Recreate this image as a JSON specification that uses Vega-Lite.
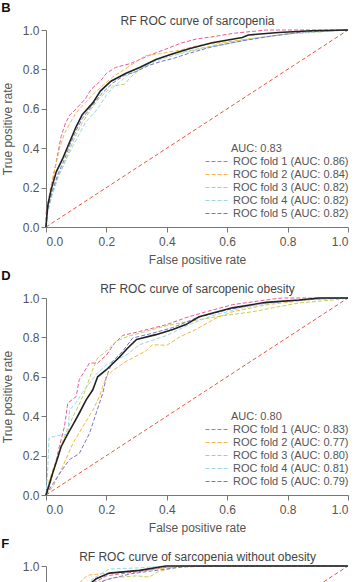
{
  "$schema": "https://vega.github.io/schema/vega-lite/v6.json",
  "background": "white",
  "padding": {"left": 1, "top": 1, "right": 5, "bottom": 0},
  "config": {
    "font": "Liberation Sans",
    "view": {"stroke": null},
    "title": {"anchor": "start", "frame": "bounds", "fontSize": 13, "fontWeight": "bold", "color": "#111111", "offset": 0, "dy": 4.5},
    "axis": {
      "grid": false,
      "labelFontSize": 12,
      "labelColor": "#555555",
      "titleFontSize": 12,
      "titleColor": "#555555",
      "titleFontWeight": "normal",
      "domainColor": "#777777",
      "tickColor": "#777777",
      "tickSize": 5,
      "labelPadding": 2
    },
    "axisX": {"labelPadding": 4, "titlePadding": 7},
    "axisTop": {"labels": false, "ticks": false, "domain": false, "titlePadding": 3, "titleColor": "#444444"},
    "axisY": {"titlePadding": 8},
    "legend": {
      "orient": "none",
      "legendX": 164,
      "legendY": 113,
      "symbolType": "M-2,0H2",
      "symbolSize": 121,
      "symbolStrokeWidth": 1.2,
      "symbolDash": [4, 2],
      "labelFontSize": 11,
      "labelColor": "#555555",
      "labelOffset": 10,
      "titleFontSize": 11,
      "titleFontWeight": "normal",
      "titleColor": "#555555",
      "titlePadding": 1,
      "rowPadding": 1
    }
  },
  "datasets": {
    "roc": [
      {"panel": "B", "series": "chance", "fpr": 0, "tpr": 0},
      {"panel": "B", "series": "chance", "fpr": 1, "tpr": 1},

      {"panel": "B", "series": "ROC fold 1 (AUC: 0.86)", "fpr": 0, "tpr": 0},
      {"panel": "B", "series": "ROC fold 1 (AUC: 0.86)", "fpr": 0.001, "tpr": 0.08},
      {"panel": "B", "series": "ROC fold 1 (AUC: 0.86)", "fpr": 0.01, "tpr": 0.15},
      {"panel": "B", "series": "ROC fold 1 (AUC: 0.86)", "fpr": 0.02, "tpr": 0.22},
      {"panel": "B", "series": "ROC fold 1 (AUC: 0.86)", "fpr": 0.03, "tpr": 0.3},
      {"panel": "B", "series": "ROC fold 1 (AUC: 0.86)", "fpr": 0.04, "tpr": 0.38},
      {"panel": "B", "series": "ROC fold 1 (AUC: 0.86)", "fpr": 0.05, "tpr": 0.46},
      {"panel": "B", "series": "ROC fold 1 (AUC: 0.86)", "fpr": 0.065, "tpr": 0.53},
      {"panel": "B", "series": "ROC fold 1 (AUC: 0.86)", "fpr": 0.08, "tpr": 0.57},
      {"panel": "B", "series": "ROC fold 1 (AUC: 0.86)", "fpr": 0.1, "tpr": 0.6},
      {"panel": "B", "series": "ROC fold 1 (AUC: 0.86)", "fpr": 0.13, "tpr": 0.65},
      {"panel": "B", "series": "ROC fold 1 (AUC: 0.86)", "fpr": 0.15, "tpr": 0.7},
      {"panel": "B", "series": "ROC fold 1 (AUC: 0.86)", "fpr": 0.18, "tpr": 0.74},
      {"panel": "B", "series": "ROC fold 1 (AUC: 0.86)", "fpr": 0.2, "tpr": 0.78},
      {"panel": "B", "series": "ROC fold 1 (AUC: 0.86)", "fpr": 0.23, "tpr": 0.81},
      {"panel": "B", "series": "ROC fold 1 (AUC: 0.86)", "fpr": 0.28, "tpr": 0.83},
      {"panel": "B", "series": "ROC fold 1 (AUC: 0.86)", "fpr": 0.31, "tpr": 0.85},
      {"panel": "B", "series": "ROC fold 1 (AUC: 0.86)", "fpr": 0.34, "tpr": 0.87},
      {"panel": "B", "series": "ROC fold 1 (AUC: 0.86)", "fpr": 0.4, "tpr": 0.905},
      {"panel": "B", "series": "ROC fold 1 (AUC: 0.86)", "fpr": 0.45, "tpr": 0.935},
      {"panel": "B", "series": "ROC fold 1 (AUC: 0.86)", "fpr": 0.5, "tpr": 0.955},
      {"panel": "B", "series": "ROC fold 1 (AUC: 0.86)", "fpr": 0.55, "tpr": 0.965},
      {"panel": "B", "series": "ROC fold 1 (AUC: 0.86)", "fpr": 0.62, "tpr": 0.983},
      {"panel": "B", "series": "ROC fold 1 (AUC: 0.86)", "fpr": 0.73, "tpr": 1},
      {"panel": "B", "series": "ROC fold 1 (AUC: 0.86)", "fpr": 1, "tpr": 1},

      {"panel": "B", "series": "ROC fold 2 (AUC: 0.84)", "fpr": 0, "tpr": 0},
      {"panel": "B", "series": "ROC fold 2 (AUC: 0.84)", "fpr": 0.005, "tpr": 0.1},
      {"panel": "B", "series": "ROC fold 2 (AUC: 0.84)", "fpr": 0.015, "tpr": 0.2},
      {"panel": "B", "series": "ROC fold 2 (AUC: 0.84)", "fpr": 0.03, "tpr": 0.3},
      {"panel": "B", "series": "ROC fold 2 (AUC: 0.84)", "fpr": 0.045, "tpr": 0.4},
      {"panel": "B", "series": "ROC fold 2 (AUC: 0.84)", "fpr": 0.06, "tpr": 0.47},
      {"panel": "B", "series": "ROC fold 2 (AUC: 0.84)", "fpr": 0.08, "tpr": 0.53},
      {"panel": "B", "series": "ROC fold 2 (AUC: 0.84)", "fpr": 0.1, "tpr": 0.58},
      {"panel": "B", "series": "ROC fold 2 (AUC: 0.84)", "fpr": 0.13, "tpr": 0.63},
      {"panel": "B", "series": "ROC fold 2 (AUC: 0.84)", "fpr": 0.16, "tpr": 0.68},
      {"panel": "B", "series": "ROC fold 2 (AUC: 0.84)", "fpr": 0.19, "tpr": 0.72},
      {"panel": "B", "series": "ROC fold 2 (AUC: 0.84)", "fpr": 0.22, "tpr": 0.76},
      {"panel": "B", "series": "ROC fold 2 (AUC: 0.84)", "fpr": 0.26, "tpr": 0.8},
      {"panel": "B", "series": "ROC fold 2 (AUC: 0.84)", "fpr": 0.3, "tpr": 0.84},
      {"panel": "B", "series": "ROC fold 2 (AUC: 0.84)", "fpr": 0.33, "tpr": 0.87},
      {"panel": "B", "series": "ROC fold 2 (AUC: 0.84)", "fpr": 0.38, "tpr": 0.88},
      {"panel": "B", "series": "ROC fold 2 (AUC: 0.84)", "fpr": 0.45, "tpr": 0.9},
      {"panel": "B", "series": "ROC fold 2 (AUC: 0.84)", "fpr": 0.5, "tpr": 0.92},
      {"panel": "B", "series": "ROC fold 2 (AUC: 0.84)", "fpr": 0.6, "tpr": 0.94},
      {"panel": "B", "series": "ROC fold 2 (AUC: 0.84)", "fpr": 0.7, "tpr": 0.96},
      {"panel": "B", "series": "ROC fold 2 (AUC: 0.84)", "fpr": 0.8, "tpr": 0.98},
      {"panel": "B", "series": "ROC fold 2 (AUC: 0.84)", "fpr": 0.9, "tpr": 0.99},
      {"panel": "B", "series": "ROC fold 2 (AUC: 0.84)", "fpr": 1, "tpr": 1},

      {"panel": "B", "series": "ROC fold 3 (AUC: 0.82)", "fpr": 0, "tpr": 0},
      {"panel": "B", "series": "ROC fold 3 (AUC: 0.82)", "fpr": 0.005, "tpr": 0.08},
      {"panel": "B", "series": "ROC fold 3 (AUC: 0.82)", "fpr": 0.02, "tpr": 0.17},
      {"panel": "B", "series": "ROC fold 3 (AUC: 0.82)", "fpr": 0.04, "tpr": 0.26},
      {"panel": "B", "series": "ROC fold 3 (AUC: 0.82)", "fpr": 0.06, "tpr": 0.32},
      {"panel": "B", "series": "ROC fold 3 (AUC: 0.82)", "fpr": 0.08, "tpr": 0.4},
      {"panel": "B", "series": "ROC fold 3 (AUC: 0.82)", "fpr": 0.1, "tpr": 0.47},
      {"panel": "B", "series": "ROC fold 3 (AUC: 0.82)", "fpr": 0.12, "tpr": 0.53},
      {"panel": "B", "series": "ROC fold 3 (AUC: 0.82)", "fpr": 0.15, "tpr": 0.6},
      {"panel": "B", "series": "ROC fold 3 (AUC: 0.82)", "fpr": 0.18, "tpr": 0.66},
      {"panel": "B", "series": "ROC fold 3 (AUC: 0.82)", "fpr": 0.21, "tpr": 0.7},
      {"panel": "B", "series": "ROC fold 3 (AUC: 0.82)", "fpr": 0.22, "tpr": 0.715},
      {"panel": "B", "series": "ROC fold 3 (AUC: 0.82)", "fpr": 0.26, "tpr": 0.725},
      {"panel": "B", "series": "ROC fold 3 (AUC: 0.82)", "fpr": 0.28, "tpr": 0.76},
      {"panel": "B", "series": "ROC fold 3 (AUC: 0.82)", "fpr": 0.31, "tpr": 0.8},
      {"panel": "B", "series": "ROC fold 3 (AUC: 0.82)", "fpr": 0.35, "tpr": 0.84},
      {"panel": "B", "series": "ROC fold 3 (AUC: 0.82)", "fpr": 0.4, "tpr": 0.87},
      {"panel": "B", "series": "ROC fold 3 (AUC: 0.82)", "fpr": 0.46, "tpr": 0.89},
      {"panel": "B", "series": "ROC fold 3 (AUC: 0.82)", "fpr": 0.55, "tpr": 0.92},
      {"panel": "B", "series": "ROC fold 3 (AUC: 0.82)", "fpr": 0.65, "tpr": 0.95},
      {"panel": "B", "series": "ROC fold 3 (AUC: 0.82)", "fpr": 0.75, "tpr": 0.97},
      {"panel": "B", "series": "ROC fold 3 (AUC: 0.82)", "fpr": 0.85, "tpr": 0.99},
      {"panel": "B", "series": "ROC fold 3 (AUC: 0.82)", "fpr": 1, "tpr": 1},

      {"panel": "B", "series": "ROC fold 4 (AUC: 0.82)", "fpr": 0, "tpr": 0},
      {"panel": "B", "series": "ROC fold 4 (AUC: 0.82)", "fpr": 0.005, "tpr": 0.07},
      {"panel": "B", "series": "ROC fold 4 (AUC: 0.82)", "fpr": 0.02, "tpr": 0.16},
      {"panel": "B", "series": "ROC fold 4 (AUC: 0.82)", "fpr": 0.04, "tpr": 0.25},
      {"panel": "B", "series": "ROC fold 4 (AUC: 0.82)", "fpr": 0.06, "tpr": 0.32},
      {"panel": "B", "series": "ROC fold 4 (AUC: 0.82)", "fpr": 0.085, "tpr": 0.4},
      {"panel": "B", "series": "ROC fold 4 (AUC: 0.82)", "fpr": 0.11, "tpr": 0.47},
      {"panel": "B", "series": "ROC fold 4 (AUC: 0.82)", "fpr": 0.13, "tpr": 0.53},
      {"panel": "B", "series": "ROC fold 4 (AUC: 0.82)", "fpr": 0.16, "tpr": 0.58},
      {"panel": "B", "series": "ROC fold 4 (AUC: 0.82)", "fpr": 0.18, "tpr": 0.62},
      {"panel": "B", "series": "ROC fold 4 (AUC: 0.82)", "fpr": 0.2, "tpr": 0.67},
      {"panel": "B", "series": "ROC fold 4 (AUC: 0.82)", "fpr": 0.23, "tpr": 0.72},
      {"panel": "B", "series": "ROC fold 4 (AUC: 0.82)", "fpr": 0.27, "tpr": 0.77},
      {"panel": "B", "series": "ROC fold 4 (AUC: 0.82)", "fpr": 0.31, "tpr": 0.8},
      {"panel": "B", "series": "ROC fold 4 (AUC: 0.82)", "fpr": 0.36, "tpr": 0.84},
      {"panel": "B", "series": "ROC fold 4 (AUC: 0.82)", "fpr": 0.42, "tpr": 0.87},
      {"panel": "B", "series": "ROC fold 4 (AUC: 0.82)", "fpr": 0.5, "tpr": 0.9},
      {"panel": "B", "series": "ROC fold 4 (AUC: 0.82)", "fpr": 0.6, "tpr": 0.93},
      {"panel": "B", "series": "ROC fold 4 (AUC: 0.82)", "fpr": 0.7, "tpr": 0.96},
      {"panel": "B", "series": "ROC fold 4 (AUC: 0.82)", "fpr": 0.8, "tpr": 0.98},
      {"panel": "B", "series": "ROC fold 4 (AUC: 0.82)", "fpr": 0.9, "tpr": 0.99},
      {"panel": "B", "series": "ROC fold 4 (AUC: 0.82)", "fpr": 1, "tpr": 1},

      {"panel": "B", "series": "ROC fold 5 (AUC: 0.82)", "fpr": 0, "tpr": 0},
      {"panel": "B", "series": "ROC fold 5 (AUC: 0.82)", "fpr": 0.005, "tpr": 0.09},
      {"panel": "B", "series": "ROC fold 5 (AUC: 0.82)", "fpr": 0.02, "tpr": 0.18},
      {"panel": "B", "series": "ROC fold 5 (AUC: 0.82)", "fpr": 0.04, "tpr": 0.27},
      {"panel": "B", "series": "ROC fold 5 (AUC: 0.82)", "fpr": 0.06, "tpr": 0.34},
      {"panel": "B", "series": "ROC fold 5 (AUC: 0.82)", "fpr": 0.08, "tpr": 0.42},
      {"panel": "B", "series": "ROC fold 5 (AUC: 0.82)", "fpr": 0.1, "tpr": 0.49},
      {"panel": "B", "series": "ROC fold 5 (AUC: 0.82)", "fpr": 0.12, "tpr": 0.55},
      {"panel": "B", "series": "ROC fold 5 (AUC: 0.82)", "fpr": 0.15, "tpr": 0.61},
      {"panel": "B", "series": "ROC fold 5 (AUC: 0.82)", "fpr": 0.18, "tpr": 0.67},
      {"panel": "B", "series": "ROC fold 5 (AUC: 0.82)", "fpr": 0.22, "tpr": 0.73},
      {"panel": "B", "series": "ROC fold 5 (AUC: 0.82)", "fpr": 0.26, "tpr": 0.77},
      {"panel": "B", "series": "ROC fold 5 (AUC: 0.82)", "fpr": 0.3, "tpr": 0.79},
      {"panel": "B", "series": "ROC fold 5 (AUC: 0.82)", "fpr": 0.34, "tpr": 0.82},
      {"panel": "B", "series": "ROC fold 5 (AUC: 0.82)", "fpr": 0.38, "tpr": 0.84},
      {"panel": "B", "series": "ROC fold 5 (AUC: 0.82)", "fpr": 0.42, "tpr": 0.855},
      {"panel": "B", "series": "ROC fold 5 (AUC: 0.82)", "fpr": 0.47, "tpr": 0.88},
      {"panel": "B", "series": "ROC fold 5 (AUC: 0.82)", "fpr": 0.55, "tpr": 0.915},
      {"panel": "B", "series": "ROC fold 5 (AUC: 0.82)", "fpr": 0.65, "tpr": 0.945},
      {"panel": "B", "series": "ROC fold 5 (AUC: 0.82)", "fpr": 0.75, "tpr": 0.97},
      {"panel": "B", "series": "ROC fold 5 (AUC: 0.82)", "fpr": 0.85, "tpr": 0.99},
      {"panel": "B", "series": "ROC fold 5 (AUC: 0.82)", "fpr": 1, "tpr": 1},

      {"panel": "B", "series": "mean", "fpr": 0, "tpr": 0},
      {"panel": "B", "series": "mean", "fpr": 0.003, "tpr": 0.06},
      {"panel": "B", "series": "mean", "fpr": 0.006, "tpr": 0.11},
      {"panel": "B", "series": "mean", "fpr": 0.017, "tpr": 0.19},
      {"panel": "B", "series": "mean", "fpr": 0.034, "tpr": 0.28},
      {"panel": "B", "series": "mean", "fpr": 0.056, "tpr": 0.35},
      {"panel": "B", "series": "mean", "fpr": 0.078, "tpr": 0.43},
      {"panel": "B", "series": "mean", "fpr": 0.1, "tpr": 0.51},
      {"panel": "B", "series": "mean", "fpr": 0.12, "tpr": 0.57},
      {"panel": "B", "series": "mean", "fpr": 0.155, "tpr": 0.63},
      {"panel": "B", "series": "mean", "fpr": 0.18, "tpr": 0.69},
      {"panel": "B", "series": "mean", "fpr": 0.215, "tpr": 0.74},
      {"panel": "B", "series": "mean", "fpr": 0.265, "tpr": 0.78},
      {"panel": "B", "series": "mean", "fpr": 0.31, "tpr": 0.81},
      {"panel": "B", "series": "mean", "fpr": 0.364, "tpr": 0.85},
      {"panel": "B", "series": "mean", "fpr": 0.42, "tpr": 0.88},
      {"panel": "B", "series": "mean", "fpr": 0.474, "tpr": 0.905},
      {"panel": "B", "series": "mean", "fpr": 0.55, "tpr": 0.935},
      {"panel": "B", "series": "mean", "fpr": 0.65, "tpr": 0.962},
      {"panel": "B", "series": "mean", "fpr": 0.67, "tpr": 0.975},
      {"panel": "B", "series": "mean", "fpr": 0.77, "tpr": 0.987},
      {"panel": "B", "series": "mean", "fpr": 0.88, "tpr": 0.996},
      {"panel": "B", "series": "mean", "fpr": 1, "tpr": 1},

      {"panel": "D", "series": "chance", "fpr": 0, "tpr": 0},
      {"panel": "D", "series": "chance", "fpr": 1, "tpr": 1},

      {"panel": "D", "series": "ROC fold 1 (AUC: 0.83)", "fpr": 0, "tpr": 0},
      {"panel": "D", "series": "ROC fold 1 (AUC: 0.83)", "fpr": 0.01, "tpr": 0.04},
      {"panel": "D", "series": "ROC fold 1 (AUC: 0.83)", "fpr": 0.03, "tpr": 0.15},
      {"panel": "D", "series": "ROC fold 1 (AUC: 0.83)", "fpr": 0.044, "tpr": 0.245},
      {"panel": "D", "series": "ROC fold 1 (AUC: 0.83)", "fpr": 0.061, "tpr": 0.347},
      {"panel": "D", "series": "ROC fold 1 (AUC: 0.83)", "fpr": 0.072, "tpr": 0.466},
      {"panel": "D", "series": "ROC fold 1 (AUC: 0.83)", "fpr": 0.1, "tpr": 0.5},
      {"panel": "D", "series": "ROC fold 1 (AUC: 0.83)", "fpr": 0.11, "tpr": 0.585},
      {"panel": "D", "series": "ROC fold 1 (AUC: 0.83)", "fpr": 0.116, "tpr": 0.6},
      {"panel": "D", "series": "ROC fold 1 (AUC: 0.83)", "fpr": 0.144, "tpr": 0.67},
      {"panel": "D", "series": "ROC fold 1 (AUC: 0.83)", "fpr": 0.171, "tpr": 0.67},
      {"panel": "D", "series": "ROC fold 1 (AUC: 0.83)", "fpr": 0.2, "tpr": 0.71},
      {"panel": "D", "series": "ROC fold 1 (AUC: 0.83)", "fpr": 0.227, "tpr": 0.77},
      {"panel": "D", "series": "ROC fold 1 (AUC: 0.83)", "fpr": 0.254, "tpr": 0.81},
      {"panel": "D", "series": "ROC fold 1 (AUC: 0.83)", "fpr": 0.31, "tpr": 0.83},
      {"panel": "D", "series": "ROC fold 1 (AUC: 0.83)", "fpr": 0.4, "tpr": 0.865},
      {"panel": "D", "series": "ROC fold 1 (AUC: 0.83)", "fpr": 0.463, "tpr": 0.9},
      {"panel": "D", "series": "ROC fold 1 (AUC: 0.83)", "fpr": 0.53, "tpr": 0.93},
      {"panel": "D", "series": "ROC fold 1 (AUC: 0.83)", "fpr": 0.617, "tpr": 0.966},
      {"panel": "D", "series": "ROC fold 1 (AUC: 0.83)", "fpr": 0.728, "tpr": 0.99},
      {"panel": "D", "series": "ROC fold 1 (AUC: 0.83)", "fpr": 0.78, "tpr": 1},
      {"panel": "D", "series": "ROC fold 1 (AUC: 0.83)", "fpr": 1, "tpr": 1},

      {"panel": "D", "series": "ROC fold 2 (AUC: 0.77)", "fpr": 0, "tpr": 0},
      {"panel": "D", "series": "ROC fold 2 (AUC: 0.77)", "fpr": 0.022, "tpr": 0.04},
      {"panel": "D", "series": "ROC fold 2 (AUC: 0.77)", "fpr": 0.055, "tpr": 0.143},
      {"panel": "D", "series": "ROC fold 2 (AUC: 0.77)", "fpr": 0.089, "tpr": 0.262},
      {"panel": "D", "series": "ROC fold 2 (AUC: 0.77)", "fpr": 0.122, "tpr": 0.347},
      {"panel": "D", "series": "ROC fold 2 (AUC: 0.77)", "fpr": 0.155, "tpr": 0.43},
      {"panel": "D", "series": "ROC fold 2 (AUC: 0.77)", "fpr": 0.177, "tpr": 0.5},
      {"panel": "D", "series": "ROC fold 2 (AUC: 0.77)", "fpr": 0.19, "tpr": 0.56},
      {"panel": "D", "series": "ROC fold 2 (AUC: 0.77)", "fpr": 0.2, "tpr": 0.6},
      {"panel": "D", "series": "ROC fold 2 (AUC: 0.77)", "fpr": 0.22, "tpr": 0.63},
      {"panel": "D", "series": "ROC fold 2 (AUC: 0.77)", "fpr": 0.265, "tpr": 0.678},
      {"panel": "D", "series": "ROC fold 2 (AUC: 0.77)", "fpr": 0.33, "tpr": 0.73},
      {"panel": "D", "series": "ROC fold 2 (AUC: 0.77)", "fpr": 0.353, "tpr": 0.763},
      {"panel": "D", "series": "ROC fold 2 (AUC: 0.77)", "fpr": 0.4, "tpr": 0.76},
      {"panel": "D", "series": "ROC fold 2 (AUC: 0.77)", "fpr": 0.44, "tpr": 0.8},
      {"panel": "D", "series": "ROC fold 2 (AUC: 0.77)", "fpr": 0.496, "tpr": 0.84},
      {"panel": "D", "series": "ROC fold 2 (AUC: 0.77)", "fpr": 0.563, "tpr": 0.898},
      {"panel": "D", "series": "ROC fold 2 (AUC: 0.77)", "fpr": 0.617, "tpr": 0.93},
      {"panel": "D", "series": "ROC fold 2 (AUC: 0.77)", "fpr": 0.728, "tpr": 0.965},
      {"panel": "D", "series": "ROC fold 2 (AUC: 0.77)", "fpr": 0.838, "tpr": 0.985},
      {"panel": "D", "series": "ROC fold 2 (AUC: 0.77)", "fpr": 0.92, "tpr": 1},
      {"panel": "D", "series": "ROC fold 2 (AUC: 0.77)", "fpr": 1, "tpr": 1},

      {"panel": "D", "series": "ROC fold 3 (AUC: 0.80)", "fpr": 0, "tpr": 0},
      {"panel": "D", "series": "ROC fold 3 (AUC: 0.80)", "fpr": 0.01, "tpr": 0.07},
      {"panel": "D", "series": "ROC fold 3 (AUC: 0.80)", "fpr": 0.03, "tpr": 0.16},
      {"panel": "D", "series": "ROC fold 3 (AUC: 0.80)", "fpr": 0.05, "tpr": 0.25},
      {"panel": "D", "series": "ROC fold 3 (AUC: 0.80)", "fpr": 0.07, "tpr": 0.33},
      {"panel": "D", "series": "ROC fold 3 (AUC: 0.80)", "fpr": 0.09, "tpr": 0.4},
      {"panel": "D", "series": "ROC fold 3 (AUC: 0.80)", "fpr": 0.11, "tpr": 0.46},
      {"panel": "D", "series": "ROC fold 3 (AUC: 0.80)", "fpr": 0.13, "tpr": 0.53},
      {"panel": "D", "series": "ROC fold 3 (AUC: 0.80)", "fpr": 0.15, "tpr": 0.62},
      {"panel": "D", "series": "ROC fold 3 (AUC: 0.80)", "fpr": 0.171, "tpr": 0.695},
      {"panel": "D", "series": "ROC fold 3 (AUC: 0.80)", "fpr": 0.2, "tpr": 0.73},
      {"panel": "D", "series": "ROC fold 3 (AUC: 0.80)", "fpr": 0.232, "tpr": 0.78},
      {"panel": "D", "series": "ROC fold 3 (AUC: 0.80)", "fpr": 0.27, "tpr": 0.805},
      {"panel": "D", "series": "ROC fold 3 (AUC: 0.80)", "fpr": 0.33, "tpr": 0.83},
      {"panel": "D", "series": "ROC fold 3 (AUC: 0.80)", "fpr": 0.4, "tpr": 0.86},
      {"panel": "D", "series": "ROC fold 3 (AUC: 0.80)", "fpr": 0.47, "tpr": 0.88},
      {"panel": "D", "series": "ROC fold 3 (AUC: 0.80)", "fpr": 0.573, "tpr": 0.907},
      {"panel": "D", "series": "ROC fold 3 (AUC: 0.80)", "fpr": 0.683, "tpr": 0.93},
      {"panel": "D", "series": "ROC fold 3 (AUC: 0.80)", "fpr": 0.75, "tpr": 0.95},
      {"panel": "D", "series": "ROC fold 3 (AUC: 0.80)", "fpr": 0.838, "tpr": 0.975},
      {"panel": "D", "series": "ROC fold 3 (AUC: 0.80)", "fpr": 0.95, "tpr": 0.99},
      {"panel": "D", "series": "ROC fold 3 (AUC: 0.80)", "fpr": 1, "tpr": 1},

      {"panel": "D", "series": "ROC fold 4 (AUC: 0.81)", "fpr": 0, "tpr": 0},
      {"panel": "D", "series": "ROC fold 4 (AUC: 0.81)", "fpr": 0.005, "tpr": 0.1},
      {"panel": "D", "series": "ROC fold 4 (AUC: 0.81)", "fpr": 0.01, "tpr": 0.29},
      {"panel": "D", "series": "ROC fold 4 (AUC: 0.81)", "fpr": 0.033, "tpr": 0.3},
      {"panel": "D", "series": "ROC fold 4 (AUC: 0.81)", "fpr": 0.072, "tpr": 0.31},
      {"panel": "D", "series": "ROC fold 4 (AUC: 0.81)", "fpr": 0.078, "tpr": 0.43},
      {"panel": "D", "series": "ROC fold 4 (AUC: 0.81)", "fpr": 0.1, "tpr": 0.47},
      {"panel": "D", "series": "ROC fold 4 (AUC: 0.81)", "fpr": 0.12, "tpr": 0.52},
      {"panel": "D", "series": "ROC fold 4 (AUC: 0.81)", "fpr": 0.15, "tpr": 0.58},
      {"panel": "D", "series": "ROC fold 4 (AUC: 0.81)", "fpr": 0.17, "tpr": 0.62},
      {"panel": "D", "series": "ROC fold 4 (AUC: 0.81)", "fpr": 0.2, "tpr": 0.66},
      {"panel": "D", "series": "ROC fold 4 (AUC: 0.81)", "fpr": 0.265, "tpr": 0.71},
      {"panel": "D", "series": "ROC fold 4 (AUC: 0.81)", "fpr": 0.31, "tpr": 0.763},
      {"panel": "D", "series": "ROC fold 4 (AUC: 0.81)", "fpr": 0.4, "tpr": 0.81},
      {"panel": "D", "series": "ROC fold 4 (AUC: 0.81)", "fpr": 0.474, "tpr": 0.865},
      {"panel": "D", "series": "ROC fold 4 (AUC: 0.81)", "fpr": 0.55, "tpr": 0.91},
      {"panel": "D", "series": "ROC fold 4 (AUC: 0.81)", "fpr": 0.65, "tpr": 0.95},
      {"panel": "D", "series": "ROC fold 4 (AUC: 0.81)", "fpr": 0.75, "tpr": 0.975},
      {"panel": "D", "series": "ROC fold 4 (AUC: 0.81)", "fpr": 0.85, "tpr": 0.99},
      {"panel": "D", "series": "ROC fold 4 (AUC: 0.81)", "fpr": 1, "tpr": 1},

      {"panel": "D", "series": "ROC fold 5 (AUC: 0.79)", "fpr": 0, "tpr": 0},
      {"panel": "D", "series": "ROC fold 5 (AUC: 0.79)", "fpr": 0.02, "tpr": 0.05},
      {"panel": "D", "series": "ROC fold 5 (AUC: 0.79)", "fpr": 0.05, "tpr": 0.12},
      {"panel": "D", "series": "ROC fold 5 (AUC: 0.79)", "fpr": 0.078, "tpr": 0.18},
      {"panel": "D", "series": "ROC fold 5 (AUC: 0.79)", "fpr": 0.11, "tpr": 0.21},
      {"panel": "D", "series": "ROC fold 5 (AUC: 0.79)", "fpr": 0.144, "tpr": 0.313},
      {"panel": "D", "series": "ROC fold 5 (AUC: 0.79)", "fpr": 0.166, "tpr": 0.415},
      {"panel": "D", "series": "ROC fold 5 (AUC: 0.79)", "fpr": 0.188, "tpr": 0.517},
      {"panel": "D", "series": "ROC fold 5 (AUC: 0.79)", "fpr": 0.2, "tpr": 0.6},
      {"panel": "D", "series": "ROC fold 5 (AUC: 0.79)", "fpr": 0.22, "tpr": 0.678},
      {"panel": "D", "series": "ROC fold 5 (AUC: 0.79)", "fpr": 0.254, "tpr": 0.73},
      {"panel": "D", "series": "ROC fold 5 (AUC: 0.79)", "fpr": 0.287, "tpr": 0.797},
      {"panel": "D", "series": "ROC fold 5 (AUC: 0.79)", "fpr": 0.35, "tpr": 0.82},
      {"panel": "D", "series": "ROC fold 5 (AUC: 0.79)", "fpr": 0.42, "tpr": 0.85},
      {"panel": "D", "series": "ROC fold 5 (AUC: 0.79)", "fpr": 0.5, "tpr": 0.9},
      {"panel": "D", "series": "ROC fold 5 (AUC: 0.79)", "fpr": 0.6, "tpr": 0.94},
      {"panel": "D", "series": "ROC fold 5 (AUC: 0.79)", "fpr": 0.7, "tpr": 0.97},
      {"panel": "D", "series": "ROC fold 5 (AUC: 0.79)", "fpr": 0.8, "tpr": 0.985},
      {"panel": "D", "series": "ROC fold 5 (AUC: 0.79)", "fpr": 0.9, "tpr": 0.995},
      {"panel": "D", "series": "ROC fold 5 (AUC: 0.79)", "fpr": 1, "tpr": 1},

      {"panel": "D", "series": "mean", "fpr": 0, "tpr": 0},
      {"panel": "D", "series": "mean", "fpr": 0.01, "tpr": 0.05},
      {"panel": "D", "series": "mean", "fpr": 0.022, "tpr": 0.11},
      {"panel": "D", "series": "mean", "fpr": 0.039, "tpr": 0.19},
      {"panel": "D", "series": "mean", "fpr": 0.05, "tpr": 0.245},
      {"panel": "D", "series": "mean", "fpr": 0.072, "tpr": 0.31},
      {"panel": "D", "series": "mean", "fpr": 0.089, "tpr": 0.356},
      {"panel": "D", "series": "mean", "fpr": 0.11, "tpr": 0.415},
      {"panel": "D", "series": "mean", "fpr": 0.133, "tpr": 0.483},
      {"panel": "D", "series": "mean", "fpr": 0.155, "tpr": 0.534},
      {"panel": "D", "series": "mean", "fpr": 0.171, "tpr": 0.6},
      {"panel": "D", "series": "mean", "fpr": 0.2, "tpr": 0.636},
      {"panel": "D", "series": "mean", "fpr": 0.243, "tpr": 0.7},
      {"panel": "D", "series": "mean", "fpr": 0.27, "tpr": 0.745},
      {"panel": "D", "series": "mean", "fpr": 0.3, "tpr": 0.79},
      {"panel": "D", "series": "mean", "fpr": 0.364, "tpr": 0.814},
      {"panel": "D", "series": "mean", "fpr": 0.42, "tpr": 0.84},
      {"panel": "D", "series": "mean", "fpr": 0.463, "tpr": 0.865},
      {"panel": "D", "series": "mean", "fpr": 0.507, "tpr": 0.905},
      {"panel": "D", "series": "mean", "fpr": 0.617, "tpr": 0.95},
      {"panel": "D", "series": "mean", "fpr": 0.728, "tpr": 0.978},
      {"panel": "D", "series": "mean", "fpr": 0.838, "tpr": 0.99},
      {"panel": "D", "series": "mean", "fpr": 0.904, "tpr": 1},
      {"panel": "D", "series": "mean", "fpr": 1, "tpr": 1},

      {"panel": "F", "series": "chance", "fpr": 0, "tpr": 0},
      {"panel": "F", "series": "chance", "fpr": 1, "tpr": 1},

      {"panel": "F", "series": "fold 1", "fpr": 0, "tpr": 0},
      {"panel": "F", "series": "fold 1", "fpr": 0.02, "tpr": 0.3},
      {"panel": "F", "series": "fold 1", "fpr": 0.05, "tpr": 0.6},
      {"panel": "F", "series": "fold 1", "fpr": 0.08, "tpr": 0.78},
      {"panel": "F", "series": "fold 1", "fpr": 0.11, "tpr": 0.87},
      {"panel": "F", "series": "fold 1", "fpr": 0.14, "tpr": 0.9},
      {"panel": "F", "series": "fold 1", "fpr": 0.2, "tpr": 0.95},
      {"panel": "F", "series": "fold 1", "fpr": 0.243, "tpr": 0.96},
      {"panel": "F", "series": "fold 1", "fpr": 0.3, "tpr": 0.97},
      {"panel": "F", "series": "fold 1", "fpr": 0.38, "tpr": 0.99},
      {"panel": "F", "series": "fold 1", "fpr": 0.45, "tpr": 1},
      {"panel": "F", "series": "fold 1", "fpr": 1, "tpr": 1},

      {"panel": "F", "series": "fold 2", "fpr": 0, "tpr": 0},
      {"panel": "F", "series": "fold 2", "fpr": 0.01, "tpr": 0.35},
      {"panel": "F", "series": "fold 2", "fpr": 0.04, "tpr": 0.65},
      {"panel": "F", "series": "fold 2", "fpr": 0.07, "tpr": 0.82},
      {"panel": "F", "series": "fold 2", "fpr": 0.1, "tpr": 0.9},
      {"panel": "F", "series": "fold 2", "fpr": 0.138, "tpr": 0.953},
      {"panel": "F", "series": "fold 2", "fpr": 0.18, "tpr": 0.96},
      {"panel": "F", "series": "fold 2", "fpr": 0.25, "tpr": 0.97},
      {"panel": "F", "series": "fold 2", "fpr": 0.33, "tpr": 0.98},
      {"panel": "F", "series": "fold 2", "fpr": 0.42, "tpr": 0.995},
      {"panel": "F", "series": "fold 2", "fpr": 0.5, "tpr": 1},
      {"panel": "F", "series": "fold 2", "fpr": 1, "tpr": 1},

      {"panel": "F", "series": "fold 3", "fpr": 0, "tpr": 0},
      {"panel": "F", "series": "fold 3", "fpr": 0.02, "tpr": 0.25},
      {"panel": "F", "series": "fold 3", "fpr": 0.05, "tpr": 0.55},
      {"panel": "F", "series": "fold 3", "fpr": 0.09, "tpr": 0.75},
      {"panel": "F", "series": "fold 3", "fpr": 0.13, "tpr": 0.86},
      {"panel": "F", "series": "fold 3", "fpr": 0.16, "tpr": 0.91},
      {"panel": "F", "series": "fold 3", "fpr": 0.22, "tpr": 0.94},
      {"panel": "F", "series": "fold 3", "fpr": 0.3, "tpr": 0.95},
      {"panel": "F", "series": "fold 3", "fpr": 0.342, "tpr": 0.944},
      {"panel": "F", "series": "fold 3", "fpr": 0.37, "tpr": 0.97},
      {"panel": "F", "series": "fold 3", "fpr": 0.42, "tpr": 0.99},
      {"panel": "F", "series": "fold 3", "fpr": 0.48, "tpr": 1},
      {"panel": "F", "series": "fold 3", "fpr": 1, "tpr": 1},

      {"panel": "F", "series": "fold 4", "fpr": 0, "tpr": 0},
      {"panel": "F", "series": "fold 4", "fpr": 0.01, "tpr": 0.3},
      {"panel": "F", "series": "fold 4", "fpr": 0.04, "tpr": 0.6},
      {"panel": "F", "series": "fold 4", "fpr": 0.08, "tpr": 0.8},
      {"panel": "F", "series": "fold 4", "fpr": 0.12, "tpr": 0.89},
      {"panel": "F", "series": "fold 4", "fpr": 0.16, "tpr": 0.94},
      {"panel": "F", "series": "fold 4", "fpr": 0.21, "tpr": 0.985},
      {"panel": "F", "series": "fold 4", "fpr": 0.3, "tpr": 0.99},
      {"panel": "F", "series": "fold 4", "fpr": 0.4, "tpr": 1},
      {"panel": "F", "series": "fold 4", "fpr": 1, "tpr": 1},

      {"panel": "F", "series": "fold 5", "fpr": 0, "tpr": 0},
      {"panel": "F", "series": "fold 5", "fpr": 0.02, "tpr": 0.28},
      {"panel": "F", "series": "fold 5", "fpr": 0.05, "tpr": 0.58},
      {"panel": "F", "series": "fold 5", "fpr": 0.09, "tpr": 0.78},
      {"panel": "F", "series": "fold 5", "fpr": 0.12, "tpr": 0.86},
      {"panel": "F", "series": "fold 5", "fpr": 0.15, "tpr": 0.9},
      {"panel": "F", "series": "fold 5", "fpr": 0.2, "tpr": 0.93},
      {"panel": "F", "series": "fold 5", "fpr": 0.28, "tpr": 0.96},
      {"panel": "F", "series": "fold 5", "fpr": 0.35, "tpr": 0.975},
      {"panel": "F", "series": "fold 5", "fpr": 0.45, "tpr": 0.995},
      {"panel": "F", "series": "fold 5", "fpr": 0.55, "tpr": 1},
      {"panel": "F", "series": "fold 5", "fpr": 1, "tpr": 1},

      {"panel": "F", "series": "mean", "fpr": 0, "tpr": 0},
      {"panel": "F", "series": "mean", "fpr": 0.01, "tpr": 0.2},
      {"panel": "F", "series": "mean", "fpr": 0.03, "tpr": 0.45},
      {"panel": "F", "series": "mean", "fpr": 0.06, "tpr": 0.65},
      {"panel": "F", "series": "mean", "fpr": 0.09, "tpr": 0.8},
      {"panel": "F", "series": "mean", "fpr": 0.133, "tpr": 0.893},
      {"panel": "F", "series": "mean", "fpr": 0.166, "tpr": 0.935},
      {"panel": "F", "series": "mean", "fpr": 0.21, "tpr": 0.964},
      {"panel": "F", "series": "mean", "fpr": 0.31, "tpr": 0.978},
      {"panel": "F", "series": "mean", "fpr": 0.397, "tpr": 1},
      {"panel": "F", "series": "mean", "fpr": 1, "tpr": 1}
    ]
  },
  "spacing": 4,
  "resolve": {"scale": {"color": "independent"}, "legend": {"color": "independent"}},
  "vconcat": [
    {
      "width": 302,
      "height": 197,
      "title": {"text": "B"},
      "data": {"name": "roc"},
      "transform": [{"filter": "datum.panel === 'B'"}],
      "resolve": {"axis": {"x": "independent"}},
      "encoding": {
        "y": {"field": "tpr", "type": "quantitative", "scale": {"domain": [0, 1], "nice": false},
              "axis": {"title": "True positive rate", "values": [0, 0.2, 0.4, 0.6, 0.8, 1], "format": ".1f"}}
      },
      "layer": [
        {
          "transform": [{"filter": "datum.series === 'chance'"}],
          "mark": {"type": "line", "color": "#e8553f", "strokeWidth": 1, "strokeDash": [4, 2.5]},
          "encoding": {
            "x": {"field": "fpr", "type": "quantitative", "scale": {"domain": [0, 1], "nice": false},
                  "axis": {"orient": "bottom", "title": "False positive rate", "values": [0, 0.2, 0.4, 0.6, 0.8, 1], "format": ".1f"}}
          }
        },
        {
          "transform": [{"filter": "datum.series !== 'chance' && datum.series !== 'mean'"}],
          "mark": {"type": "line", "strokeWidth": 1, "strokeDash": [4, 2]},
          "encoding": {
            "x": {"field": "fpr", "type": "quantitative", "scale": {"domain": [0, 1], "nice": false},
                  "axis": {"orient": "top", "title": "RF ROC curve of sarcopenia"}},
            "color": {"field": "series", "type": "nominal",
              "scale": {"domain": ["ROC fold 1 (AUC: 0.86)", "ROC fold 2 (AUC: 0.84)", "ROC fold 3 (AUC: 0.82)", "ROC fold 4 (AUC: 0.82)", "ROC fold 5 (AUC: 0.82)"],
                        "range": ["#e85a96", "#f3b845", "#c3cf58", "#9dd6ea", "#7478c4"]},
              "legend": {"title": "AUC: 0.83", "encode": {"title": {"update": {"dx": {"value": 21}}}}}}
          }
        },
        {
          "transform": [{"filter": "datum.series === 'mean'"}],
          "mark": {"type": "line", "color": "#222222", "strokeWidth": 1.6},
          "encoding": {
            "x": {"field": "fpr", "type": "quantitative", "scale": {"domain": [0, 1], "nice": false}, "axis": null}
          }
        }
      ]
    },
    {
      "width": 302,
      "height": 197,
      "title": {"text": "D"},
      "data": {"name": "roc"},
      "transform": [{"filter": "datum.panel === 'D'"}],
      "resolve": {"axis": {"x": "independent"}},
      "encoding": {
        "y": {"field": "tpr", "type": "quantitative", "scale": {"domain": [0, 1], "nice": false},
              "axis": {"title": "True positive rate", "values": [0, 0.2, 0.4, 0.6, 0.8, 1], "format": ".1f"}}
      },
      "layer": [
        {
          "transform": [{"filter": "datum.series === 'chance'"}],
          "mark": {"type": "line", "color": "#e8553f", "strokeWidth": 1, "strokeDash": [4, 2.5]},
          "encoding": {
            "x": {"field": "fpr", "type": "quantitative", "scale": {"domain": [0, 1], "nice": false},
                  "axis": {"orient": "bottom", "title": "False positive rate", "values": [0, 0.2, 0.4, 0.6, 0.8, 1], "format": ".1f"}}
          }
        },
        {
          "transform": [{"filter": "datum.series !== 'chance' && datum.series !== 'mean'"}],
          "mark": {"type": "line", "strokeWidth": 1, "strokeDash": [4, 2]},
          "encoding": {
            "x": {"field": "fpr", "type": "quantitative", "scale": {"domain": [0, 1], "nice": false},
                  "axis": {"orient": "top", "title": "RF ROC curve of sarcopenic obesity"}},
            "color": {"field": "series", "type": "nominal",
              "scale": {"domain": ["ROC fold 1 (AUC: 0.83)", "ROC fold 2 (AUC: 0.77)", "ROC fold 3 (AUC: 0.80)", "ROC fold 4 (AUC: 0.81)", "ROC fold 5 (AUC: 0.79)"],
                        "range": ["#e85a96", "#f3b845", "#c3cf58", "#9dd6ea", "#7478c4"]},
              "legend": {"title": "AUC: 0.80", "encode": {"title": {"update": {"dx": {"value": 21}}}}}}
          }
        },
        {
          "transform": [{"filter": "datum.series === 'mean'"}],
          "mark": {"type": "line", "color": "#222222", "strokeWidth": 1.6},
          "encoding": {
            "x": {"field": "fpr", "type": "quantitative", "scale": {"domain": [0, 1], "nice": false}, "axis": null}
          }
        }
      ]
    },
    {
      "width": 302,
      "height": 197,
      "title": {"text": "F"},
      "data": {"name": "roc"},
      "transform": [{"filter": "datum.panel === 'F'"}],
      "resolve": {"axis": {"x": "independent"}},
      "encoding": {
        "y": {"field": "tpr", "type": "quantitative", "scale": {"domain": [0, 1], "nice": false},
              "axis": {"title": "True positive rate", "values": [0, 0.2, 0.4, 0.6, 0.8, 1], "format": ".1f"}}
      },
      "layer": [
        {
          "transform": [{"filter": "datum.series === 'chance'"}],
          "mark": {"type": "line", "color": "#e8553f", "strokeWidth": 1, "strokeDash": [4, 2.5]},
          "encoding": {
            "x": {"field": "fpr", "type": "quantitative", "scale": {"domain": [0, 1], "nice": false},
                  "axis": {"orient": "bottom", "title": "False positive rate", "values": [0, 0.2, 0.4, 0.6, 0.8, 1], "format": ".1f"}}
          }
        },
        {
          "transform": [{"filter": "datum.series !== 'chance' && datum.series !== 'mean'"}],
          "mark": {"type": "line", "strokeWidth": 1, "strokeDash": [4, 2]},
          "encoding": {
            "x": {"field": "fpr", "type": "quantitative", "scale": {"domain": [0, 1], "nice": false},
                  "axis": {"orient": "top", "title": "RF ROC curve of sarcopenia without obesity"}},
            "color": {"field": "series", "type": "nominal",
              "scale": {"domain": ["fold 1", "fold 2", "fold 3", "fold 4", "fold 5"],
                        "range": ["#e85a96", "#f3b845", "#c3cf58", "#9dd6ea", "#7478c4"]},
              "legend": null}
          }
        },
        {
          "transform": [{"filter": "datum.series === 'mean'"}],
          "mark": {"type": "line", "color": "#222222", "strokeWidth": 1.6},
          "encoding": {
            "x": {"field": "fpr", "type": "quantitative", "scale": {"domain": [0, 1], "nice": false}, "axis": null}
          }
        }
      ]
    }
  ]
}
